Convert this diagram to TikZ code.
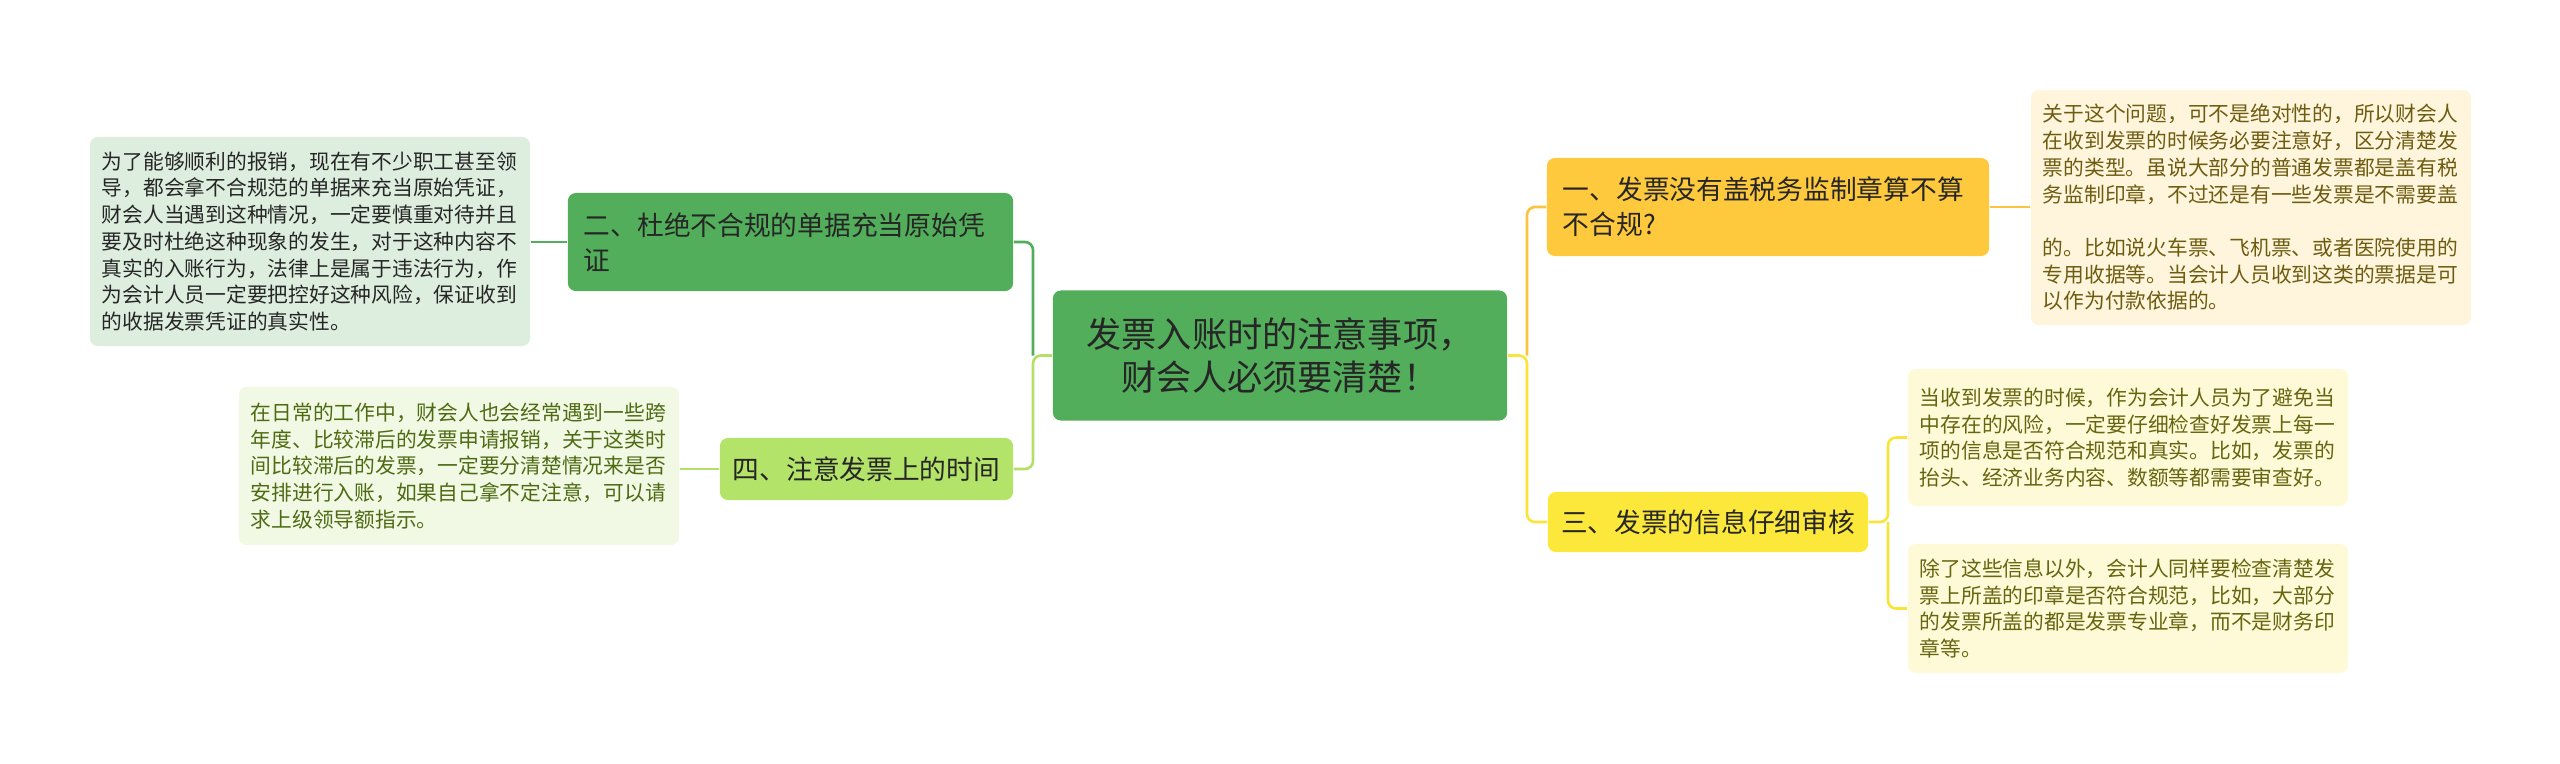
\documentclass[tikz,border=0pt]{standalone}
\usepackage{fontspec}
\usepackage{xcolor}
\usepackage{tikz}
\newfontfamily\cjk{Noto Sans CJK SC}
\definecolor{rootgreen}{HTML}{52AE5A}
\definecolor{fillone}{HTML}{FEC93C}
\definecolor{fillthree}{HTML}{FBE83A}
\definecolor{fillfour}{HTML}{B4E36A}
\definecolor{leaftwo}{HTML}{DDEEDE}
\definecolor{leaffour}{HTML}{F1F9E4}
\definecolor{leafone}{HTML}{FEF5DC}
\definecolor{leafthree}{HTML}{FEFAD7}
\definecolor{txtfour}{HTML}{4E6B14}
\definecolor{txtone}{HTML}{6E5C11}
\definecolor{txtthree}{HTML}{686511}
\definecolor{lineone}{HTML}{FBC33F}
\definecolor{linethree}{HTML}{FAE43A}
\definecolor{linefour}{HTML}{B2E06A}
\tikzset{
  mapbox/.style={rounded corners=0.08cm, inner ysep=0pt, text=black!85},
  rootbox/.style={mapbox, fill=rootgreen, align=center, font=\cjk\fontsize{10}{12}\selectfont},
  branchbox/.style={mapbox, font=\cjk\fontsize{7.6}{10}\selectfont},
  leafbox/.style={mapbox, align=left, text width=4.16cm, inner xsep=0.12cm, font=\cjk\fontsize{5.9}{7.6}\selectfont},
  branchline/.style={line width=0.75pt, rounded corners=0.08cm},
}
\begin{document}
\begin{tikzpicture}[x=0.01cm,y=-0.01cm]
 \useasboundingbox (0,0) rectangle (2560,763);
 \coordinate (sl) at (1033,355.5);
 \coordinate (sr) at (1527,355.5);
 \coordinate (s3) at (1888,522);
 % centre
 \node[rootbox, minimum width=4.54cm, minimum height=1.3cm] (root) at (1280,355.5)
   {发票入账时的注意事项，\\财会人必须要清楚！};
 % left side
 \node[branchbox, fill=rootgreen, align=left, text width=4.13cm, inner xsep=0.16cm,
   minimum height=0.98cm] (b2) at (790.5,242)
   {二、杜绝不合规的单据充当原始凭\\证};
 \node[branchbox, fill=fillfour, align=center, minimum width=2.93cm,
   minimum height=0.62cm] (b4) at (866.5,469) {四、注意发票上的时间};
 \node[leafbox, fill=leaftwo, minimum height=2.09cm] (l2) at (310,241.5)
   {为了能够顺利的报销，现在有不少职工甚至领\\
    导，都会拿不合规范的单据来充当原始凭证，\\
    财会人当遇到这种情况，一定要慎重对待并且\\
    要及时杜绝这种现象的发生，对于这种内容不\\
    真实的入账行为，法律上是属于违法行为，作\\
    为会计人员一定要把控好这种风险，保证收到\\
    的收据发票凭证的真实性。};
 \node[leafbox, fill=leaffour, text=txtfour, minimum height=1.58cm] (l4) at (459,466)
   {在日常的工作中，财会人也会经常遇到一些跨\\
    年度、比较滞后的发票申请报销，关于这类时\\
    间比较滞后的发票，一定要分清楚情况来是否\\
    安排进行入账，如果自己拿不定注意，可以请\\
    求上级领导额指示。};
 % right side
 \node[branchbox, fill=fillone, align=left, text width=4.10cm, inner xsep=0.16cm,
   minimum height=0.98cm] (b1) at (1768,207)
   {一、发票没有盖税务监制章算不算\\不合规?};
 \node[branchbox, fill=fillthree, align=center, minimum width=3.2cm,
   minimum height=0.6cm] (b3) at (1708,522) {三、发票的信息仔细审核};
 \node[leafbox, fill=leafone, text=txtone, minimum height=2.35cm] (l1) at (2251,207.5)
   {关于这个问题，可不是绝对性的，所以财会人\\
    在收到发票的时候务必要注意好，区分清楚发\\
    票的类型。虽说大部分的普通发票都是盖有税\\
    务监制印章，不过还是有一些发票是不需要盖\\[7.6pt]
    的。比如说火车票、飞机票、或者医院使用的\\
    专用收据等。当会计人员收到这类的票据是可\\
    以作为付款依据的。};
 \node[leafbox, fill=leafthree, text=txtthree, minimum height=1.37cm] (l3a) at (2128,437.5)
   {当收到发票的时候，作为会计人员为了避免当\\
    中存在的风险，一定要仔细检查好发票上每一\\
    项的信息是否符合规范和真实。比如，发票的\\
    抬头、经济业务内容、数额等都需要审查好。};
 \node[leafbox, fill=leafthree, text=txtthree, minimum height=1.29cm] (l3b) at (2128,608.5)
   {除了这些信息以外，会计人同样要检查清楚发\\
    票上所盖的印章是否符合规范，比如，大部分\\
    的发票所盖的都是发票专业章，而不是财务印\\
    章等。};
 % connectors
 \draw[branchline, linefour] (root.west) -- (sl) |- (b4.east);
 \draw[branchline, rootgreen] (sl) |- (b2.east);
 \draw[branchline, rootgreen] (b2.west) -- (b2.west -| l2.east);
 \draw[branchline, linefour] (b4.west) -- (b4.west -| l4.east);
 \draw[branchline, linethree] (root.east) -- (sr) |- (b3.west);
 \draw[branchline, lineone] (sr) |- (b1.west);
 \draw[branchline, lineone] (b1.east) -- (b1.east -| l1.west);
 \draw[branchline, linethree] (b3.east) -- (s3) |- (l3a.west);
 \draw[branchline, linethree] (s3) |- (l3b.west);
\end{tikzpicture}
\end{document}
